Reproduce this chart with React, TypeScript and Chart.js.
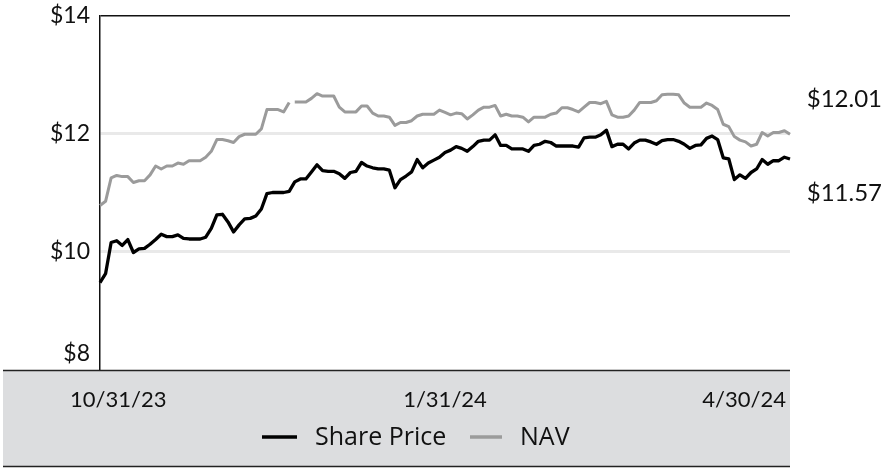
import React, { useEffect, useRef } from 'react';
import { Chart, registerables } from 'chart.js';

Chart.register(...registerables);

// Trading-day series, 10/31/23 .. 4/30/24
const sharePrice = [
  9.47, 9.62, 10.15, 10.18, 10.10, 10.20, 9.98, 10.04, 10.05, 10.12,
  10.20, 10.29, 10.25, 10.25, 10.28, 10.22, 10.21, 10.21, 10.21, 10.24,
  10.39, 10.62, 10.63, 10.50, 10.33, 10.45, 10.55, 10.56, 10.60, 10.72,
  10.98, 11.00, 11.00, 11.00, 11.02, 11.18, 11.23, 11.23, 11.35, 11.47,
  11.37, 11.36, 11.36, 11.32, 11.24, 11.34, 11.36, 11.51, 11.45, 11.42,
  11.40, 11.40, 11.38, 11.08, 11.22, 11.28, 11.35, 11.56, 11.42, 11.50,
  11.55, 11.60, 11.68, 11.72, 11.78, 11.75, 11.70, 11.78, 11.87, 11.89,
  11.89, 11.98, 11.80, 11.80, 11.74, 11.74, 11.74, 11.70, 11.80, 11.82,
  11.87, 11.85, 11.79, 11.79, 11.79, 11.79, 11.77, 11.93, 11.94, 11.94,
  11.98, 12.06, 11.78, 11.82, 11.82, 11.74, 11.84, 11.89, 11.89, 11.86,
  11.82, 11.88, 11.90, 11.90, 11.87, 11.82, 11.75, 11.80, 11.81, 11.92,
  11.96, 11.90, 11.59, 11.57, 11.22, 11.30, 11.24, 11.34, 11.40, 11.56,
  11.48, 11.54, 11.54, 11.60, 11.57,
];

const nav = [
  10.78, 10.85, 11.25, 11.29, 11.27, 11.27, 11.17, 11.20, 11.20, 11.30,
  11.45, 11.40, 11.45, 11.45, 11.50, 11.48, 11.54, 11.54, 11.54, 11.60,
  11.70, 11.90, 11.90, 11.88, 11.85, 11.95, 11.99, 11.99, 11.99, 12.08,
  12.41, 12.41, 12.41, 12.37, 12.53, 12.54, 12.54, 12.54, 12.60, 12.68,
  12.64, 12.64, 12.64, 12.45, 12.37, 12.37, 12.37, 12.47, 12.47, 12.35,
  12.30, 12.30, 12.28, 12.14, 12.19, 12.19, 12.22, 12.30, 12.33, 12.33,
  12.33, 12.40, 12.36, 12.32, 12.35, 12.34, 12.25, 12.32, 12.40, 12.45,
  12.45, 12.48, 12.30, 12.33, 12.30, 12.30, 12.28, 12.20, 12.28, 12.28,
  12.28, 12.33, 12.35, 12.44, 12.44, 12.41, 12.37, 12.45, 12.53, 12.53,
  12.51, 12.55, 12.32, 12.28, 12.28, 12.30, 12.40, 12.53, 12.53, 12.53,
  12.56, 12.66, 12.67, 12.67, 12.66, 12.52, 12.45, 12.45, 12.45, 12.52,
  12.48, 12.41, 12.16, 12.12, 11.95, 11.89, 11.86, 11.79, 11.82, 12.02,
  11.96, 12.02, 12.02, 12.05, 11.99,
];

// NAV segment missing after this index
const navGapAfter = [34];

const xTickIndex = [0, 62, 124];
const xTickLabels = ['10/31/23', '1/31/24', '4/30/24'];
const yTicks = [8, 10, 12, 14];
const endLabels = ['$12.01', '$11.57'];
const seriesNames = ['Share Price', 'NAV'];
const seriesColors = ['#000000', '#9b9b9b'];

export default function App() {
  const ref = useRef<HTMLCanvasElement>(null);

  useEffect(() => {
    document.body.style.margin = '0';
    const canvas = ref.current;
    if (!canvas) return;
    const labels = sharePrice.map((_, i) => String(i));

    const overlay = {
      id: 'overlay',
      afterDraw(chart: any) {
        const ctx = chart.ctx as CanvasRenderingContext2D;
        const xs = chart.scales.x;
        const ys = chart.scales.y;
        ctx.save();
        // bottom band
        ctx.fillStyle = '#dcdddf';
        ctx.fillRect(3, 370, 787, 97);
        ctx.strokeStyle = '#222222';
        ctx.lineWidth = 1.5;
        ctx.beginPath();
        ctx.moveTo(3, 370.5);
        ctx.lineTo(790, 370.5);
        ctx.moveTo(3, 466.5);
        ctx.lineTo(790, 466.5);
        ctx.stroke();

        // y tick labels
        ctx.fillStyle = '#111111';
        ctx.font = '23px Lato';
        ctx.textAlign = 'right';
        ctx.textBaseline = 'middle';
        yTicks.forEach((v) => {
          let py = ys.getPixelForValue(v);
          if (v === yTicks[0]) py -= 15;
          ctx.fillText('$' + v, 90, py);
        });

        // x tick labels
        ctx.font = '22px Lato';
        xTickIndex.forEach((idx, k) => {
          const px = xs.getPixelForValue(idx);
          if (k === 0) {
            ctx.textAlign = 'left';
            ctx.fillText(xTickLabels[k], px - 30, 400);
          } else if (k === xTickIndex.length - 1) {
            ctx.textAlign = 'right';
            ctx.fillText(xTickLabels[k], px - 4, 400);
          } else {
            ctx.textAlign = 'center';
            ctx.fillText(xTickLabels[k], px, 400);
          }
        });

        // end value labels
        ctx.font = '24px Lato';
        ctx.textAlign = 'right';
        const navEnd = ys.getPixelForValue(nav[nav.length - 1]);
        const spEnd = ys.getPixelForValue(sharePrice[sharePrice.length - 1]);
        ctx.fillText(endLabels[0], 882, navEnd - 35);
        ctx.fillText(endLabels[1], 882, spEnd + 34);

        // legend
        const items = [
          { x0: 262, x1: 297, tx: 315 },
          { x0: 470, x1: 502, tx: 520 },
        ];
        ctx.font = '25px "Open Sans"';
        ctx.textAlign = 'left';
        items.forEach((it, k) => {
          ctx.strokeStyle = seriesColors[k];
          ctx.lineWidth = 3.5;
          ctx.beginPath();
          ctx.moveTo(it.x0, 437);
          ctx.lineTo(it.x1, 437);
          ctx.stroke();
          ctx.fillStyle = '#111111';
          ctx.fillText(seriesNames[k], it.tx, 438);
        });
        ctx.restore();
      },
    };

    const chart = new Chart(canvas, {
      type: 'line',
      data: {
        labels,
        datasets: [
          {
            label: seriesNames[1],
            data: nav,
            borderColor: seriesColors[1],
            borderWidth: 3,
            pointRadius: 0,
            tension: 0,
            borderJoinStyle: 'round',
            segment: {
              borderColor: (c: any) =>
                navGapAfter.includes(c.p0DataIndex) ? 'rgba(0,0,0,0)' : undefined,
            },
          },
          {
            label: seriesNames[0],
            data: sharePrice,
            borderColor: seriesColors[0],
            borderWidth: 3.3,
            pointRadius: 0,
            tension: 0,
            borderJoinStyle: 'round',
          },
        ],
      },
      options: {
        responsive: false,
        animation: false,
        layout: { padding: { left: 100, right: 104, top: 16, bottom: 100 } },
        plugins: { legend: { display: false }, tooltip: { enabled: false } },
        scales: {
          x: { type: 'category', display: false },
          y: {
            min: 8,
            max: 14,
            ticks: { display: false, stepSize: 2 },
            afterFit: (s: any) => {
              s.width = 0;
            },
            grid: {
              drawTicks: false,
              color: (c: any) =>
                c.tick && c.tick.value === 14
                  ? '#111111'
                  : c.tick && c.tick.value === 8
                  ? 'rgba(0,0,0,0)'
                  : '#e9e9e9',
              lineWidth: (c: any) => (c.tick && c.tick.value === 14 ? 1.5 : 3),
            },
            border: { display: true, color: '#111111', width: 1.5 },
          },
        },
      },
      plugins: [overlay],
    });

    return () => chart.destroy();
  }, []);

  return (
    <div style={{ position: 'absolute', left: 0, top: 0, width: 894, height: 469 }}>
      <canvas ref={ref} width={894} height={469} style={{ display: 'block' }} />
    </div>
  );
}
